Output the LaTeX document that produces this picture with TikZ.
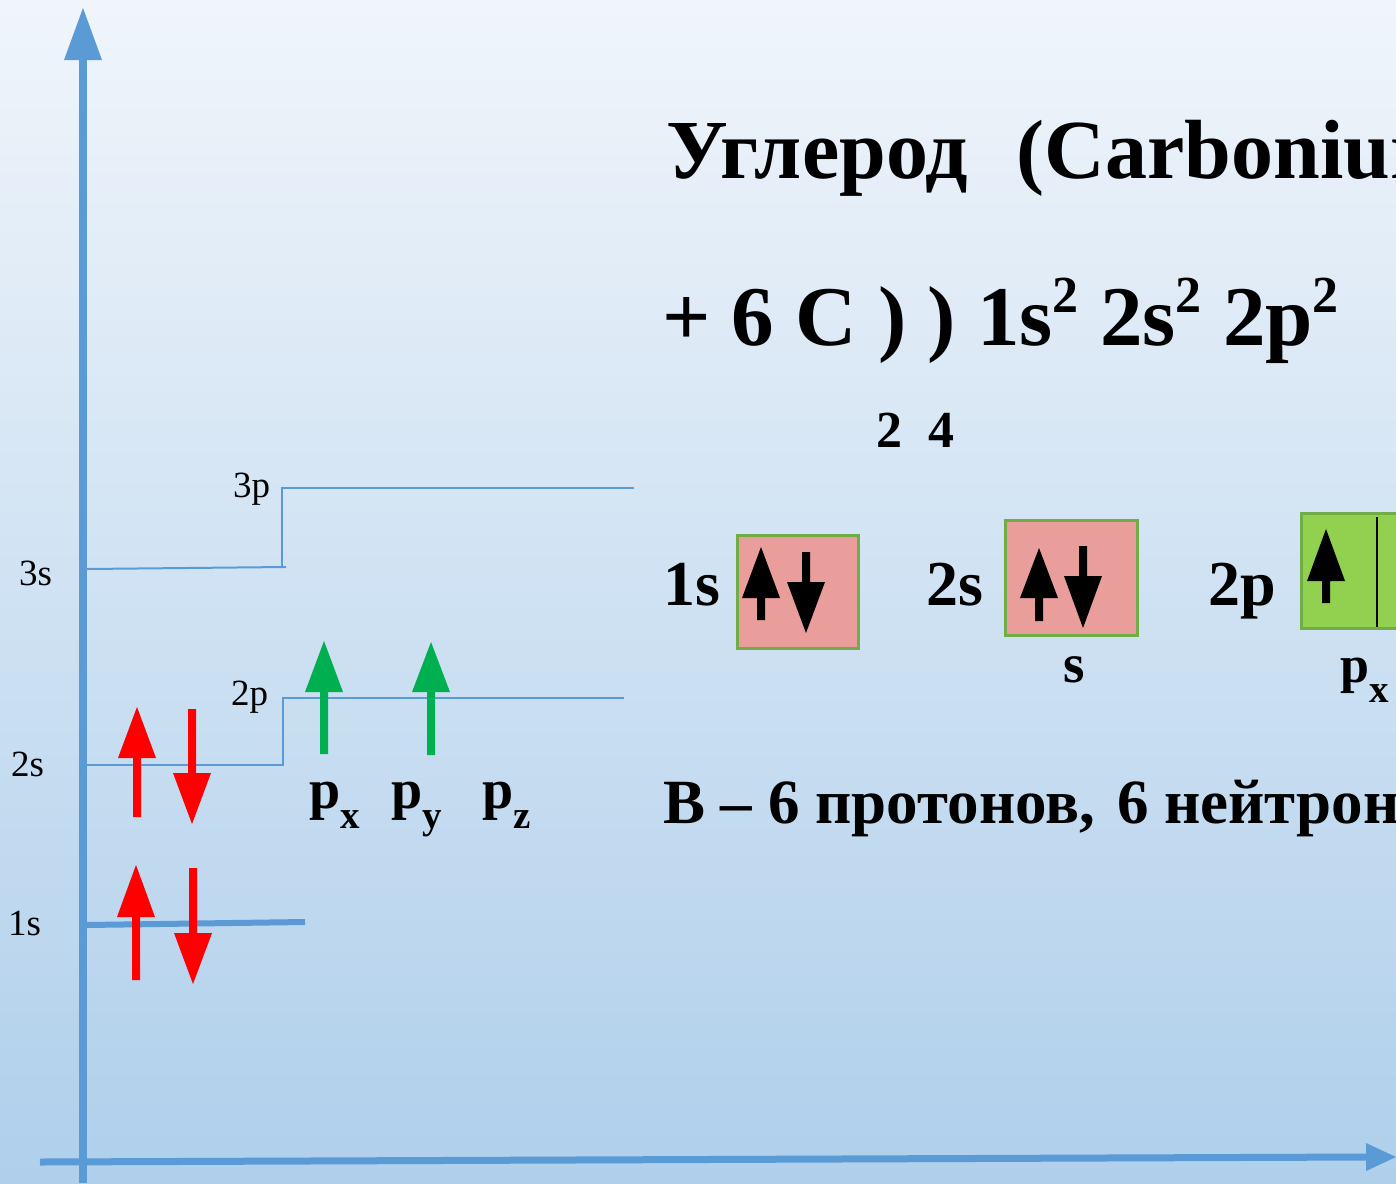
\documentclass[tikz,border=0pt]{standalone}
\usepackage{fontspec}
\setmainfont{Liberation Serif}
\definecolor{axisblue}{HTML}{5B9BD5}
\definecolor{bgtop}{HTML}{F0F5FB}
\definecolor{bgbot}{HTML}{AFCFEB}
\definecolor{elred}{HTML}{FF0000}
\definecolor{elgreen}{HTML}{00B050}
\definecolor{boxpink}{HTML}{E99E9C}
\definecolor{boxgreen}{HTML}{92D050}
\definecolor{boxedge}{HTML}{70AD47}
\newcommand\mysup[1]{\raisebox{33pt}{\fontsize{52}{52}\selectfont #1}}
\newcommand\mysub[1]{\raisebox{-20pt}{\fontsize{39}{39}\selectfont #1}}
\newcommand\vArrow[5]{\fill[#5] ({#1-4},#2) -- ({#1-4},#3) -- ({#1-19},#3) -- (#1,#4) -- ({#1+19},#3) -- ({#1+4},#3) -- ({#1+4},#2) -- cycle;}
\tikzset{
  txt/.style={inner sep=0pt, anchor=base west},
  lvl/.style={txt, font=\fontsize{37}{37}\selectfont},
  level/.style={axisblue, line width=2pt},
  orb/.style={line width=3pt, draw=boxedge},
}
\begin{document}
\begin{tikzpicture}[x=1pt,y=-1pt]
\useasboundingbox (0,0) rectangle (1396,1183);
\clip (0,0) rectangle (1396,1183);
\shade[top color=bgtop, bottom color=bgbot] (0,0) rectangle (1396,1183);
% axes
\draw[axisblue, line width=8pt] (83,1183) -- (83,58);
\fill[axisblue] (64,60) -- (83,8) -- (102,60) -- cycle;
\draw[axisblue, line width=7pt] (40,1162) -- (1368,1157);
\fill[axisblue] (1366,1143) -- (1396,1157) -- (1366,1171) -- cycle;
% levels
\draw[axisblue, line width=6pt] (86,925) -- (305,922);
\draw[level] (87,569) -- (286,567);
\draw[level] (282,566) -- (282,488) -- (634,488);
\draw[level] (87,765) -- (283,765) -- (283,698) -- (624,698);
% level labels
\node[lvl] (l3p) at (233,497) {3p};
\node[lvl] (l3s) at (19,585) {3s};
\node[lvl] (l2p) at (231,705) {2p};
\node[lvl] (l2s) at (11,776) {2s};
\node[lvl] (l1s) at (8,935) {1s};
% electrons
\vArrow{136}{980}{917}{865}{elred}
\vArrow{193}{868}{933}{984}{elred}
\vArrow{137}{817}{758}{707}{elred}
\vArrow{192}{709}{773}{824}{elred}
\vArrow{324}{754}{692}{641}{elgreen}
\vArrow{431}{755}{692}{642}{elgreen}
% p labels
\node[txt, font=\fontsize{56}{56}\selectfont\bfseries] (px) at (309,808) {p\mysub{x}};
\node[txt, font=\fontsize{56}{56}\selectfont\bfseries] (py) at (391,808) {p\mysub{y}};
\node[txt, font=\fontsize{56}{56}\selectfont\bfseries] (pz) at (482,808) {p\mysub{z}};
% right text
\node[txt, font=\fontsize{84}{84}\selectfont\bfseries] (title) at (666,178) {Углерод\hspace{49pt}(Carbonium)};
\node[txt, font=\fontsize{85}{85}\selectfont\bfseries] (config) at (662,345) {+ 6 C ) ) 1s\mysup{2} 2s\mysup{2} 2p\mysup{2}};
\node[txt, font=\fontsize{52}{52}\selectfont\bfseries] (n2) at (876,447) {2};
\node[txt, font=\fontsize{52}{52}\selectfont\bfseries] (n4) at (928,447) {4};
% orbital boxes
\node[txt, font=\fontsize{64}{64}\selectfont\bfseries] (o1s) at (663,605) {1s};
\node[txt, font=\fontsize{64}{64}\selectfont\bfseries] (o2s) at (926,605) {2s};
\node[txt, font=\fontsize{64}{64}\selectfont\bfseries] (o2p) at (1208,605) {2p};
\draw[orb, fill=boxpink] (737,535) rectangle (858,648);
\draw[orb, fill=boxpink] (1005,520) rectangle (1137,635);
\draw[orb, fill=boxgreen] (1301,513) rectangle (1560,628);
\draw[black, line width=2pt] (1377,517) -- (1377,627);
\vArrow{761}{620}{598}{547}{black}
\vArrow{806}{552}{582}{633}{black}
\vArrow{1039}{621}{598}{548}{black}
\vArrow{1083}{546}{576}{628}{black}
\vArrow{1326}{603}{581}{529}{black}
\node[txt, font=\fontsize{55}{55}\selectfont\bfseries] (s) at (1063,682) {s};
\node[txt, font=\fontsize{52}{52}\selectfont\bfseries] (px2) at (1340,682) {p\mysub{x}};
% bottom text
\node[txt, font=\fontsize{63}{63}\selectfont\bfseries] (nuc) at (663,823) {В – 6 протонов,\hspace{22pt}6 нейтронов};
\end{tikzpicture}
\end{document}
